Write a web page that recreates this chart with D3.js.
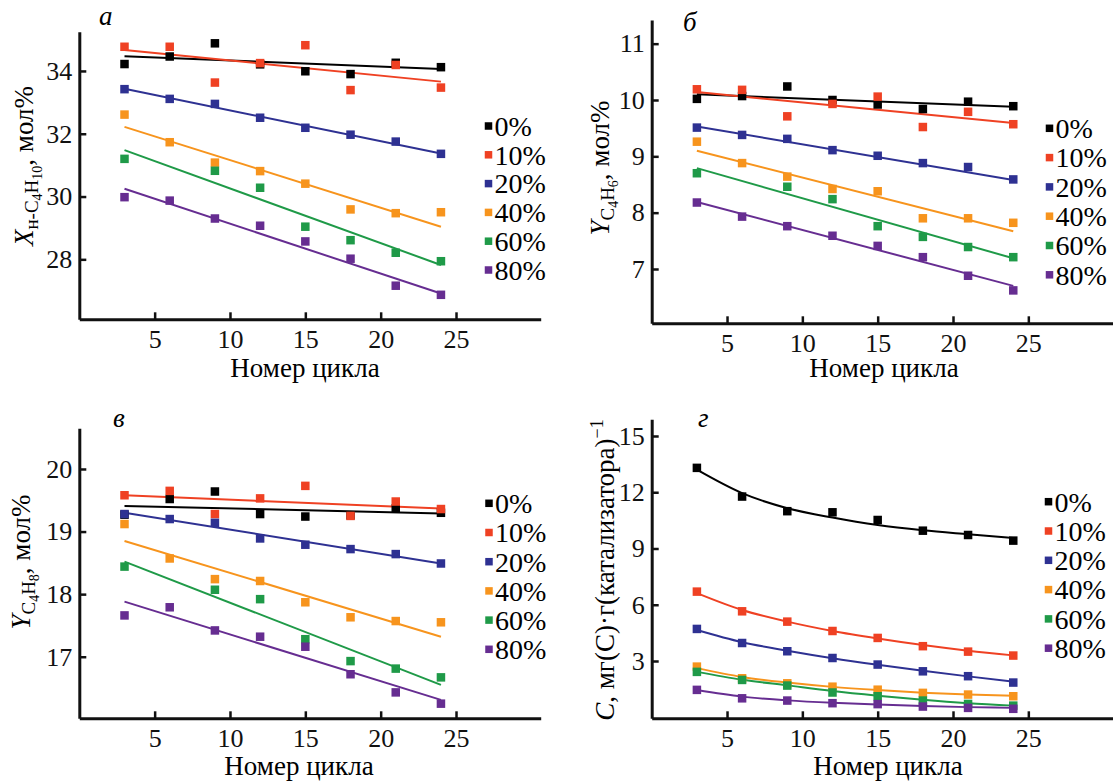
<!DOCTYPE html>
<html>
<head>
<meta charset="utf-8">
<script src="https://cdn.jsdelivr.net/npm/d3@7"></script>
<style>
  body { margin: 0; background: #fff; }
  svg, svg text { font-family: "Liberation Serif", "Times New Roman", serif; }
  svg { display: block; }
</style>
</head>
<body>
<svg id="chart" width="1113" height="781"></svg>
<script>
const cycles = [3, 6, 9, 12, 15, 18, 21, 24]
const seriesLabels = ['0%', '10%', '20%', '40%', '60%', '80%']
const seriesColors = ['#000000', '#ef4123', '#2e3192', '#f7941d', '#1f9a48', '#662d91']
const xTicks = [5, 10, 15, 20, 25]

// a: конверсия н-бутана
const convTicks = [28, 30, 32, 34]
const convPoints = [
  [34.22, 34.46, 34.88, 34.21, 33.99, 33.90, 34.26, 34.12],
  [34.77, 34.77, 33.63, 34.25, 34.82, 33.39, 34.19, 33.47],
  [33.42, 33.11, 32.95, 32.51, 32.19, 31.97, 31.75, 31.36],
  [32.61, 31.73, 31.08, 30.81, 30.41, 29.59, 29.47, 29.50],
  [31.20, null, 30.82, 30.28, 29.04, 28.61, 28.21, 27.94],
  [29.98, 29.87, 29.30, 29.07, 28.57, 28.02, 27.16, 26.87],
]
// values of the fitted lines at the first and the last cycle
const convFit = [
  [34.47, 34.06], [34.67, 33.66], [33.43, 31.37],
  [32.22, 29.04], [31.48, 27.82], [30.25, 26.91],
]

// б: выход бутадиена
const butadieneTicks = [7, 8, 9, 10, 11]
const butadienePoints = [
  [10.02, 10.07, 10.24, 10.00, 9.92, 9.84, 9.97, 9.89],
  [10.19, 10.18, 9.71, 9.93, 10.06, 9.52, 9.79, 9.57],
  [9.51, 9.38, 9.31, 9.11, 9.01, 8.88, 8.81, 8.59],
  [9.26, 8.88, 8.64, 8.42, 8.38, 7.90, 7.90, 7.82],
  [8.70, null, 8.46, 8.24, 7.76, 7.57, 7.39, 7.21],
  [8.18, 7.93, 7.76, 7.59, 7.41, 7.21, 6.88, 6.62],
]
const butadieneFit = [
  [10.10, 9.88], [10.14, 9.59], [9.53, 8.58],
  [9.10, 7.67], [8.79, 7.19], [8.19, 6.70],
]

// в: выход бутенов
const butenesTicks = [17, 18, 19, 20]
const butenesPoints = [
  [19.27, 19.52, 19.64, 19.28, 19.24, 19.26, 19.37, 19.30],
  [19.58, 19.65, 19.28, 19.53, 19.73, 19.25, 19.48, 19.36],
  [19.28, 19.20, 19.14, 18.89, 18.79, 18.72, 18.64, 18.49],
  [19.12, 18.57, 18.24, 18.21, 17.87, 17.63, 17.57, 17.55],
  [18.44, null, 18.07, 17.92, 17.28, 16.93, 16.81, 16.67],
  [17.66, 17.79, 17.42, 17.32, 17.16, 16.72, 16.43, 16.25],
]
const butenesFit = [
  [19.41, 19.29], [19.58, 19.37], [19.30, 18.49],
  [18.85, 17.32], [18.52, 16.55], [17.88, 16.31],
]

// г: содержание углерода
const carbonTicks = [3, 6, 9, 12, 15]
const carbonPoints = [
  [13.30, 11.77, 10.99, 10.93, 10.52, 9.95, 9.72, 9.42],
  [6.70, 5.65, 5.10, 4.60, 4.23, 3.79, 3.50, 3.29],
  [4.71, 3.96, 3.52, 3.16, 2.81, 2.45, 2.19, 1.85],
  [2.70, 2.08, 1.81, 1.63, 1.47, 1.30, 1.21, 1.12],
  [2.42, 1.99, 1.69, 1.32, 1.12, 0.89, 0.71, 0.62],
  [1.46, 1.01, 0.89, 0.75, 0.70, 0.57, 0.50, 0.45],
]
// fitted curves read at each cycle
const carbonFit = [
  [13.20, 11.95, 11.15, 10.65, 10.25, 9.97, 9.76, 9.56],
  [6.62, 5.72, 5.10, 4.60, 4.20, 3.85, 3.55, 3.30],
  [4.65, 4.00, 3.55, 3.15, 2.80, 2.48, 2.18, 1.90],
  [2.62, 2.15, 1.85, 1.62, 1.45, 1.31, 1.21, 1.15],
  [2.42, 2.00, 1.70, 1.40, 1.15, 0.93, 0.75, 0.62],
  [1.45, 1.10, 0.90, 0.77, 0.68, 0.60, 0.54, 0.50],
]

const svg = d3.select('#chart')
const serif = '"Liberation Serif", "Times New Roman", serif'
const tickFont = 26
const legendFont = 28
const titleFont = 27

function drawPanel({
  left, right, top, bottom, xDomain, yDomain, yTicks,
  points, fit, curved,
  tag, tagX, tagY,
  legendX, legendY, legendStep,
  title, titleX, titleY,
  xTitleX, xTitleY,
}) {
  const x = d3.scaleLinear().domain(xDomain).range([left, right])
  const y = d3.scaleLinear().domain(yDomain).range([bottom, top])
  const g = svg.append('g')

  // fitted lines / curves
  const fitLayer = g.append('g').attr('class', 'fits')
  fit.forEach((vals, i) => {
    let pts
    if (curved) {
      pts = vals.map((v, j) => [cycles[j], v])
    } else {
      pts = [[cycles[0], vals[0]], [cycles[cycles.length - 1], vals[1]]]
    }
    const line = d3.line()
      .x(d => x(d[0]))
      .y(d => y(d[1]))
      .curve(curved ? d3.curveMonotoneX : d3.curveLinear)
    fitLayer.append('path')
      .attr('d', line(pts))
      .attr('fill', 'none')
      .attr('stroke', seriesColors[i])
      .attr('stroke-width', 2)
  })

  // markers
  const size = 8.5
  points.forEach((vals, i) => {
    g.append('g')
      .selectAll('rect')
      .data(vals.map((v, j) => ({ c: cycles[j], v })).filter(d => d.v != null))
      .join('rect')
      .attr('x', d => x(d.c) - size / 2)
      .attr('y', d => y(d.v) - size / 2)
      .attr('width', size)
      .attr('height', size)
      .attr('fill', seriesColors[i])
  })

  // axes
  g.append('g')
    .attr('transform', `translate(${left},0)`)
    .call(d3.axisLeft(y).tickValues(yTicks).tickFormat(d3.format('d'))
      .tickSizeInner(-7).tickSizeOuter(0).tickPadding(7))
    .call(a => styleAxis(a))
  g.append('g')
    .attr('transform', `translate(0,${bottom})`)
    .call(d3.axisBottom(x).tickValues(xTicks).tickFormat(d3.format('d'))
      .tickSizeInner(-7).tickSizeOuter(0).tickPadding(10))
    .call(a => styleAxis(a))

  // panel tag
  g.append('text')
    .attr('x', tagX)
    .attr('y', tagY)
    .style('font-family', serif)
    .attr('font-style', 'italic')
    .attr('font-size', 27)
    .text(tag)

  // x title
  g.append('text')
    .attr('x', xTitleX)
    .attr('y', xTitleY)
    .attr('text-anchor', 'middle')
    .style('font-family', serif)
    .attr('font-size', titleFont)
    .text('Номер цикла')

  // y title, rotated, built from parts with sub/superscripts
  const yt = g.append('text')
    .attr('transform', `translate(${titleX},${titleY}) rotate(-90)`)
    .attr('text-anchor', 'middle')
    .style('font-family', serif)
    .attr('font-size', titleFont)
  let prevShift = 0
  title.forEach(p => {
    const shift = p.shift || 0
    yt.append('tspan')
      .attr('dy', shift - prevShift)
      .attr('font-size', p.size || titleFont)
      .attr('font-style', p.italic ? 'italic' : null)
      .text(p.t)
    prevShift = shift
  })

  // legend
  const legend = g.append('g')
  seriesLabels.forEach((lab, i) => {
    const ly = legendY + i * legendStep
    legend.append('rect')
      .attr('x', legendX - 3.75)
      .attr('y', ly - 3.75)
      .attr('width', 7.5)
      .attr('height', 7.5)
      .attr('fill', seriesColors[i])
    legend.append('text')
      .attr('x', legendX + 6)
      .attr('y', ly)
      .attr('dy', '0.35em')
      .style('font-family', serif)
      .attr('font-size', legendFont)
      .text(lab)
  })
}

function styleAxis(a) {
  a.attr('font-family', null)
  a.select('.domain').attr('stroke', '#111').attr('stroke-width', 3)
  a.selectAll('.tick line').attr('stroke', '#111').attr('stroke-width', 2.5)
  a.selectAll('.tick text')
    .attr('fill', '#111')
    .attr('font-size', tickFont)
    .style('font-family', serif)
}

const xDomain = [0, 30.62]

drawPanel({
  left: 79.3, right: 540.7, top: 31.7, bottom: 319.3,
  xDomain, yDomain: [26.09, 35.25], yTicks: convTicks,
  points: convPoints, fit: convFit, curved: false,
  tag: 'а', tagX: 99, tagY: 25,
  legendX: 488.5, legendY: 126, legendStep: 28.8,
  title: [
    { t: 'X', italic: true },
    { t: 'н-C', size: 19, shift: 5 },
    { t: '4', size: 14, shift: 9 },
    { t: 'H', size: 19, shift: 5 },
    { t: '10', size: 14, shift: 9 },
    { t: ', мол%', shift: 0 },
  ],
  titleX: 33, titleY: 166,
  xTitleX: 305, xTitleY: 377,
})

drawPanel({
  left: 651.7, right: 1113, top: 20, bottom: 323.3,
  xDomain, yDomain: [6.036, 11.42], yTicks: butadieneTicks,
  points: butadienePoints, fit: butadieneFit, curved: false,
  tag: 'б', tagX: 683, tagY: 31,
  legendX: 1049.5, legendY: 128.3, legendStep: 29.3,
  title: [
    { t: 'Y', italic: true },
    { t: 'C', size: 19, shift: 5 },
    { t: '4', size: 14, shift: 9 },
    { t: 'H', size: 19, shift: 5 },
    { t: '6', size: 14, shift: 9 },
    { t: ', мол%', shift: 0 },
  ],
  titleX: 609, titleY: 168,
  xTitleX: 884, xTitleY: 377,
})

drawPanel({
  left: 79.3, right: 540.7, top: 428.3, bottom: 718.3,
  xDomain, yDomain: [16.016, 20.65], yTicks: butenesTicks,
  points: butenesPoints, fit: butenesFit, curved: false,
  tag: 'в', tagX: 113, tagY: 427,
  legendX: 489, legendY: 503.3, legendStep: 29.2,
  title: [
    { t: 'Y', italic: true },
    { t: 'C', size: 19, shift: 5 },
    { t: '4', size: 14, shift: 9 },
    { t: 'H', size: 19, shift: 5 },
    { t: '8', size: 14, shift: 9 },
    { t: ', мол%', shift: 0 },
  ],
  titleX: 30, titleY: 562,
  xTitleX: 299, xTitleY: 775,
})

drawPanel({
  left: 651.7, right: 1113, top: 419.3, bottom: 718.3,
  xDomain, yDomain: [-0.056, 15.89], yTicks: carbonTicks,
  points: carbonPoints, fit: carbonFit, curved: true,
  tag: 'г', tagX: 698, tagY: 427,
  legendX: 1048.5, legendY: 501.7, legendStep: 29.3,
  title: [
    { t: 'C', italic: true },
    { t: ', мг(C)·г(катализатора)' },
    { t: '−1', size: 18, shift: -11 },
  ],
  titleX: 614, titleY: 570,
  xTitleX: 888, xTitleY: 775,
})
</script>
</body>
</html>
